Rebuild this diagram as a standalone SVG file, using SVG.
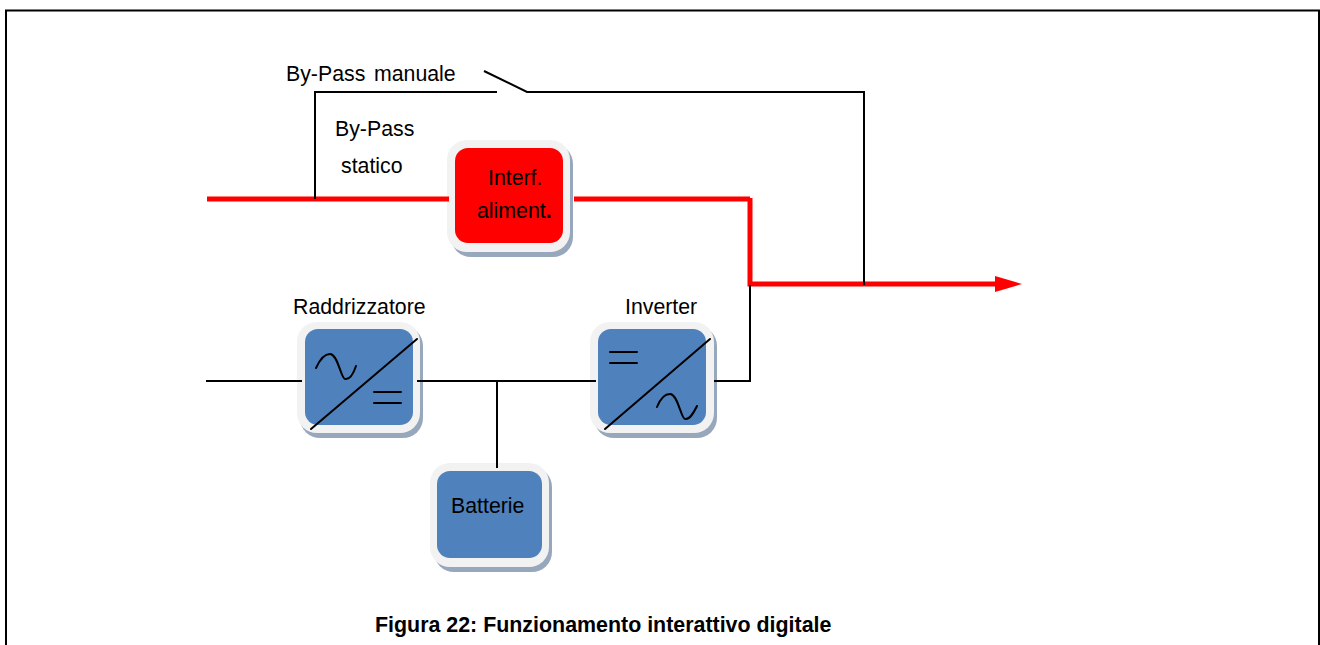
<svg xmlns="http://www.w3.org/2000/svg" width="1320" height="645" viewBox="0 0 1320 645">
<style>
text{font-family:"Liberation Sans",Arial,sans-serif;font-size:21.3px;fill:#000}
.w{fill:none;stroke:#000;stroke-width:2}
.t{fill:none;stroke:#000;stroke-width:2;stroke-linecap:round;stroke-linejoin:round}
.r{fill:none;stroke:#f00;stroke-width:5}
.sh{fill:#98a8bc}
.o{fill:#f2f2f2}
.b{fill:#4f81bd}
</style>
<defs><marker id="ah" markerUnits="userSpaceOnUse" markerWidth="27" markerHeight="16" refX="0" refY="8" orient="auto"><path d="M0 0L27 8L0 16Z" fill="#f00"/></marker></defs>
<rect width="1320" height="645" fill="#fff"/>
<path id="frame" d="M6 645V10.5H1319V645" fill="none" stroke="#000" stroke-width="2"/>
<g id="interf">
<rect class="sh" x="451" y="144" width="122" height="113" rx="20"/>
<rect class="o" x="447" y="140" width="123" height="112" rx="20"/>
<rect x="455" y="148" width="108" height="95" rx="13" fill="#f00"/>
<text x="488" y="185">Interf.</text>
<text x="477" y="218">aliment<tspan font-weight="bold">.</tspan></text>
</g>
<g id="raddrizzatore">
<rect class="sh" x="300" y="326" width="123" height="112" rx="20"/>
<rect class="o" x="297" y="322" width="123" height="111" rx="20"/>
<rect class="b" x="305" y="329" width="108" height="96" rx="13"/>
<path class="t" d="M311 429L417 339"/>
<path class="t" d="M316 368C321 357 326 354 330 354C338 354 341 379 345 379C350 380 354 372 356 366"/>
<path class="t" d="M374 392H401M374 403H401"/>
<text x="293" y="314">Raddrizzatore</text>
</g>
<g id="inverter">
<rect class="sh" x="594" y="326" width="123" height="112" rx="20"/>
<rect class="o" x="590" y="322" width="124" height="111" rx="20"/>
<rect class="b" x="598" y="329" width="108" height="96" rx="13"/>
<path class="t" d="M605 429L710 339"/>
<path class="t" d="M610 352H637M610 363H637"/>
<path class="t" d="M657 407C661 397 666 394 670 394C678 394 681 419 685 419C690 420 694 412 697 406"/>
<text x="625" y="314">Inverter</text>
</g>
<g id="batterie">
<rect class="sh" x="434" y="467" width="118" height="105" rx="20"/>
<rect class="o" x="430" y="463" width="119" height="104" rx="20"/>
<rect class="b" x="437" y="471" width="105" height="87" rx="13"/>
<text x="451" y="513">Batterie</text>
</g>
<g id="connectors">
<path class="r" d="M207 199H449"/>
<path class="r" d="M574 199H750"/>
<path class="r" d="M750 198V284H995" marker-end="url(#ah)"/>
<path class="w" d="M315 199V92H497"/>
<path class="w" d="M484 71L527 92H864V285"/>
<path class="w" d="M206 381H302"/>
<path class="w" d="M417 381H596"/>
<path class="w" d="M497 381V468"/>
<path class="w" d="M714 381H750V285"/>
</g>
<g id="labels">
<text x="286" y="81">By-Pass</text>
<text x="374" y="81">manuale</text>
<text x="335" y="136">By-Pass</text>
<text x="341" y="173">statico</text>
<text x="375" y="632" font-weight="bold" style="font-size:21.4px">Figura 22: Funzionamento interattivo digitale</text>
</g>
</svg>
